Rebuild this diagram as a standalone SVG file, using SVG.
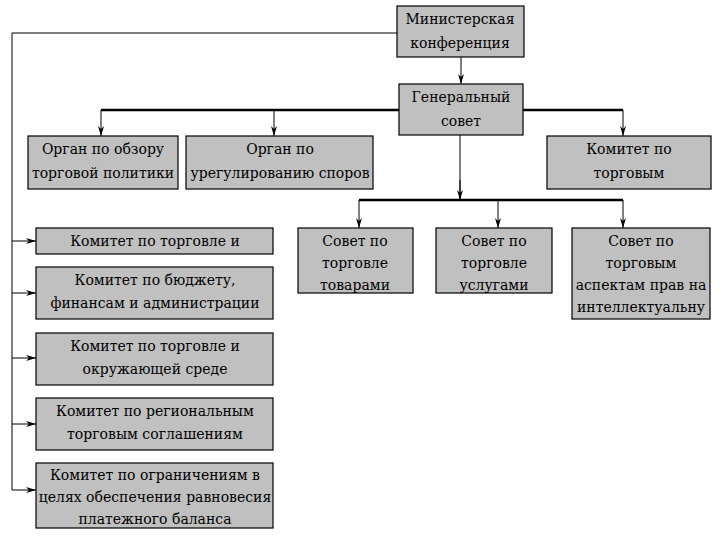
<svg xmlns="http://www.w3.org/2000/svg" width="720" height="540" viewBox="0 0 720 540">
<defs>
<marker id="a" viewBox="0 0 10 6" refX="10" refY="3" markerWidth="10" markerHeight="6" markerUnits="userSpaceOnUse" orient="auto">
<path d="M0,0 L10,3 L0,6 L3,3 Z" fill="#000"/>
</marker>
</defs>
<rect width="720" height="540" fill="#fff"/>
<g id="connectors" fill="none" stroke="#000" stroke-width="1">
<path stroke-width="2.5" d="M101,110 H623"/>
<path d="M101,110 V136" marker-end="url(#a)"/>
<path d="M274,110 V136" marker-end="url(#a)"/>
<path d="M623,110 V136" marker-end="url(#a)"/>
<path d="M461,57 V84" marker-end="url(#a)"/>
<path d="M460,135 V200"/>
<path stroke-width="2.5" d="M359,200 H623"/>
<path d="M460,180 V200" marker-end="url(#a)"/>
<path d="M359,200 V228" marker-end="url(#a)"/>
<path d="M498,200 V228" marker-end="url(#a)"/>
<path d="M623,200 V228" marker-end="url(#a)"/>
<path d="M397,33 H12 V490"/>
<path d="M12,241 H36" marker-end="url(#a)"/>
<path d="M12,293 H36" marker-end="url(#a)"/>
<path d="M12,358 H36" marker-end="url(#a)"/>
<path d="M12,424 H36" marker-end="url(#a)"/>
<path d="M12,490 H36" marker-end="url(#a)"/>
</g>
<g id="mc"><rect x="397" y="6" width="127" height="51" fill="#c0c0c0" stroke="#000" stroke-width="1.2"/><text x="460" y="24" font-size="14" font-family="DejaVu Serif" text-anchor="middle">Министерская</text><text x="460" y="48" font-size="14" font-family="DejaVu Serif" text-anchor="middle">конференция</text></g>
<g id="gc"><rect x="399" y="84" width="124" height="51" fill="#c0c0c0" stroke="#000" stroke-width="1.2"/><text x="461" y="102" font-size="14" font-family="DejaVu Serif" text-anchor="middle">Генеральный</text><text x="461" y="126" font-size="14" font-family="DejaVu Serif" text-anchor="middle">совет</text></g>
<g id="tprb"><rect x="28" y="136" width="150" height="53" fill="#c0c0c0" stroke="#000" stroke-width="1.2"/><text x="103" y="154" font-size="14" font-family="DejaVu Serif" text-anchor="middle">Орган по обзору</text><text x="103" y="178" font-size="14" font-family="DejaVu Serif" text-anchor="middle">торговой политики</text></g>
<g id="dsb"><rect x="186" y="136" width="187" height="53" fill="#c0c0c0" stroke="#000" stroke-width="1.2"/><text x="280" y="154" font-size="14" font-family="DejaVu Serif" text-anchor="middle">Орган по</text><text x="280" y="178" font-size="14" font-family="DejaVu Serif" text-anchor="middle">урегулированию споров</text></g>
<g id="ctm"><rect x="547" y="136" width="164" height="53" fill="#c0c0c0" stroke="#000" stroke-width="1.2"/><text x="629" y="154" font-size="14" font-family="DejaVu Serif" text-anchor="middle">Комитет по</text><text x="629" y="178" font-size="14" font-family="DejaVu Serif" text-anchor="middle">торговым</text></g>
<g id="goods"><rect x="298" y="228" width="115" height="65" fill="#c0c0c0" stroke="#000" stroke-width="1.2"/><text x="355" y="246" font-size="14" font-family="DejaVu Serif" text-anchor="middle">Совет по</text><text x="355" y="268" font-size="14" font-family="DejaVu Serif" text-anchor="middle">торговле</text><text x="355" y="290" font-size="14" font-family="DejaVu Serif" text-anchor="middle">товарами</text></g>
<g id="services"><rect x="436" y="228" width="116" height="65" fill="#c0c0c0" stroke="#000" stroke-width="1.2"/><text x="494" y="246" font-size="14" font-family="DejaVu Serif" text-anchor="middle">Совет по</text><text x="494" y="268" font-size="14" font-family="DejaVu Serif" text-anchor="middle">торговле</text><text x="494" y="290" font-size="14" font-family="DejaVu Serif" text-anchor="middle">услугами</text></g>
<g id="trips"><rect x="572" y="228" width="138" height="91" fill="#c0c0c0" stroke="#000" stroke-width="1.2"/><text x="641" y="246" font-size="14" font-family="DejaVu Serif" text-anchor="middle">Совет по</text><text x="641" y="268" font-size="14" font-family="DejaVu Serif" text-anchor="middle">торговым</text><text x="641" y="290" font-size="14" font-family="DejaVu Serif" text-anchor="middle">аспектам прав на</text><text x="641" y="312" font-size="14" font-family="DejaVu Serif" text-anchor="middle">интеллектуальну</text></g>
<g id="ctd"><rect x="36" y="228" width="237" height="26" fill="#c0c0c0" stroke="#000" stroke-width="1.2"/><text x="155" y="246" font-size="14" font-family="DejaVu Serif" text-anchor="middle">Комитет по торговле и</text></g>
<g id="budget"><rect x="36" y="267" width="237" height="52" fill="#c0c0c0" stroke="#000" stroke-width="1.2"/><text x="155" y="285" font-size="14" font-family="DejaVu Serif" text-anchor="middle">Комитет по бюджету,</text><text x="155" y="308" font-size="14" font-family="DejaVu Serif" text-anchor="middle">финансам и администрации</text></g>
<g id="cte"><rect x="36" y="333" width="237" height="52" fill="#c0c0c0" stroke="#000" stroke-width="1.2"/><text x="155" y="351" font-size="14" font-family="DejaVu Serif" text-anchor="middle">Комитет по торговле и</text><text x="155" y="374" font-size="14" font-family="DejaVu Serif" text-anchor="middle">окружающей среде</text></g>
<g id="rta"><rect x="36" y="398" width="237" height="52" fill="#c0c0c0" stroke="#000" stroke-width="1.2"/><text x="155" y="416" font-size="14" font-family="DejaVu Serif" text-anchor="middle">Комитет по региональным</text><text x="155" y="439" font-size="14" font-family="DejaVu Serif" text-anchor="middle">торговым соглашениям</text></g>
<g id="bop"><rect x="36" y="463" width="237" height="65" fill="#c0c0c0" stroke="#000" stroke-width="1.2"/><text x="155" y="480" font-size="14" font-family="DejaVu Serif" text-anchor="middle">Комитет по ограничениям в</text><text x="155" y="502" font-size="14" font-family="DejaVu Serif" text-anchor="middle">целях обеспечения равновесия</text><text x="155" y="524" font-size="14" font-family="DejaVu Serif" text-anchor="middle">платежного баланса</text></g>
</svg>
